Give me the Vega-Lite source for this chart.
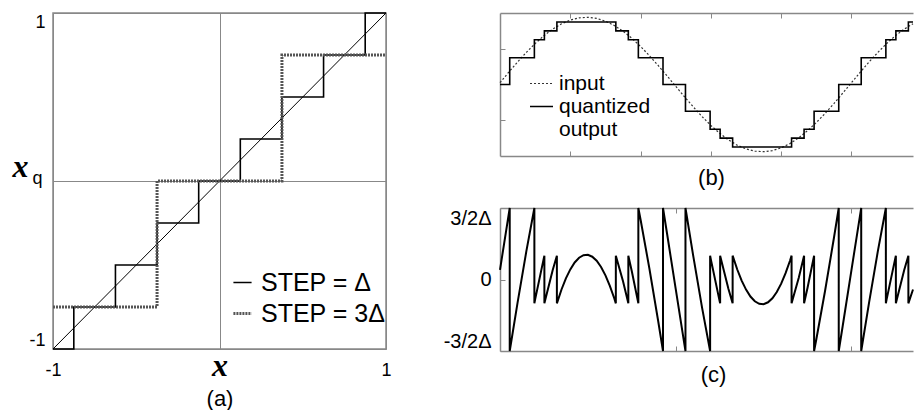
{
  "$schema": "https://vega.github.io/schema/vega-lite/v6.json",
  "background": "white",
  "padding": {"left": 11, "top": 9, "right": 0, "bottom": 0},
  "bounds": "flush",
  "spacing": 114,
  "resolve": {
    "scale": {"color": "independent", "strokeDash": "independent", "strokeWidth": "independent"},
    "legend": {"color": "independent", "strokeDash": "independent", "strokeWidth": "independent"}
  },
  "config": {
    "font": "Liberation Sans",
    "view": {"stroke": null},
    "axis": {"labelColor": "#000", "titleColor": "#000", "titleFontWeight": "normal", "domainColor": "#888", "tickColor": "#888", "gridColor": "#888", "labelFont": "Liberation Sans", "titleFont": "Liberation Sans"},
    "legend": {"labelColor": "#000", "labelFont": "Liberation Sans"}
  },
  "datasets": {
    "stairs": [
      {"x": -1, "q": -1, "step": "STEP = Δ"},
      {"x": -0.875, "q": -0.75, "step": "STEP = Δ"},
      {"x": -0.625, "q": -0.5, "step": "STEP = Δ"},
      {"x": -0.375, "q": -0.25, "step": "STEP = Δ"},
      {"x": -0.125, "q": 0, "step": "STEP = Δ"},
      {"x": 0.125, "q": 0.25, "step": "STEP = Δ"},
      {"x": 0.375, "q": 0.5, "step": "STEP = Δ"},
      {"x": 0.625, "q": 0.75, "step": "STEP = Δ"},
      {"x": 0.875, "q": 1, "step": "STEP = Δ"},
      {"x": 1, "q": 1, "step": "STEP = Δ"},
      {"x": -1, "q": -0.75, "step": "STEP = 3Δ"},
      {"x": -0.375, "q": 0, "step": "STEP = 3Δ"},
      {"x": 0.375, "q": 0.75, "step": "STEP = 3Δ"},
      {"x": 1, "q": 0.75, "step": "STEP = 3Δ"}
    ],
    "diag": [{"x": -1, "q": -1}, {"x": 1, "q": 1}],
    "input": [
      {"t": 0, "v": 0.02538, "sig": "input"}, {"t": 0.125, "v": 0.17206, "sig": "input"}, {"t": 0.25, "v": 0.31451, "sig": "input"}, {"t": 0.375, "v": 0.44921, "sig": "input"},
      {"t": 0.5, "v": 0.57285, "sig": "input"}, {"t": 0.625, "v": 0.68238, "sig": "input"}, {"t": 0.75, "v": 0.77512, "sig": "input"}, {"t": 0.875, "v": 0.84876, "sig": "input"},
      {"t": 1, "v": 0.90151, "sig": "input"}, {"t": 1.125, "v": 0.93206, "sig": "input"}, {"t": 1.25, "v": 0.93966, "sig": "input"}, {"t": 1.375, "v": 0.92412, "sig": "input"},
      {"t": 1.5, "v": 0.88583, "sig": "input"}, {"t": 1.625, "v": 0.82572, "sig": "input"}, {"t": 1.75, "v": 0.74528, "sig": "input"}, {"t": 1.875, "v": 0.64649, "sig": "input"},
      {"t": 2, "v": 0.53179, "sig": "input"}, {"t": 2.125, "v": 0.40398, "sig": "input"}, {"t": 2.25, "v": 0.26624, "sig": "input"}, {"t": 2.375, "v": 0.12193, "sig": "input"},
      {"t": 2.5, "v": -0.02538, "sig": "input"}, {"t": 2.625, "v": -0.17206, "sig": "input"}, {"t": 2.75, "v": -0.31451, "sig": "input"}, {"t": 2.875, "v": -0.44921, "sig": "input"},
      {"t": 3, "v": -0.57285, "sig": "input"}, {"t": 3.125, "v": -0.68238, "sig": "input"}, {"t": 3.25, "v": -0.77512, "sig": "input"}, {"t": 3.375, "v": -0.84876, "sig": "input"},
      {"t": 3.5, "v": -0.90151, "sig": "input"}, {"t": 3.625, "v": -0.93206, "sig": "input"}, {"t": 3.75, "v": -0.93966, "sig": "input"}, {"t": 3.875, "v": -0.92412, "sig": "input"},
      {"t": 4, "v": -0.88583, "sig": "input"}, {"t": 4.125, "v": -0.82572, "sig": "input"}, {"t": 4.25, "v": -0.74528, "sig": "input"}, {"t": 4.375, "v": -0.64649, "sig": "input"},
      {"t": 4.5, "v": -0.53179, "sig": "input"}, {"t": 4.625, "v": -0.40398, "sig": "input"}, {"t": 4.75, "v": -0.26624, "sig": "input"}, {"t": 4.875, "v": -0.12193, "sig": "input"},
      {"t": 5, "v": 0.02538, "sig": "input"}, {"t": 5.125, "v": 0.17206, "sig": "input"}, {"t": 5.25, "v": 0.31451, "sig": "input"}, {"t": 5.375, "v": 0.44921, "sig": "input"},
      {"t": 5.5, "v": 0.57285, "sig": "input"}, {"t": 5.625, "v": 0.68238, "sig": "input"}, {"t": 5.75, "v": 0.77512, "sig": "input"}, {"t": 5.875, "v": 0.84876, "sig": "input"}
    ],
    "quant": [
      {"t": 0, "v": 0, "sig": "quantized output"}, {"t": 0.13832, "v": 0.375, "sig": "quantized output"}, {"t": 0.48901, "v": 0.625, "sig": "quantized output"},
      {"t": 0.63144, "v": 0.75, "sig": "quantized output"}, {"t": 0.80922, "v": 0.875, "sig": "quantized output"}, {"t": 1.64781, "v": 0.75, "sig": "quantized output"},
      {"t": 1.82559, "v": 0.625, "sig": "quantized output"}, {"t": 1.96801, "v": 0.375, "sig": "quantized output"}, {"t": 2.3187, "v": 0, "sig": "quantized output"},
      {"t": 2.63834, "v": -0.375, "sig": "quantized output"}, {"t": 2.98901, "v": -0.625, "sig": "quantized output"}, {"t": 3.13144, "v": -0.75, "sig": "quantized output"},
      {"t": 3.30922, "v": -0.875, "sig": "quantized output"}, {"t": 4.14781, "v": -0.75, "sig": "quantized output"}, {"t": 4.32559, "v": -0.625, "sig": "quantized output"},
      {"t": 4.46801, "v": -0.375, "sig": "quantized output"}, {"t": 4.8187, "v": 0, "sig": "quantized output"}, {"t": 5.13832, "v": 0.375, "sig": "quantized output"},
      {"t": 5.48901, "v": 0.625, "sig": "quantized output"}, {"t": 5.63144, "v": 0.75, "sig": "quantized output"}, {"t": 5.80922, "v": 0.875, "sig": "quantized output"},
      {"t": 5.875, "v": 0.875, "sig": "quantized output"}
    ],
    "err": [
      {"i": 0, "t": 0, "e": 0.203}, {"i": 1, "t": 0.125, "e": 1.3765}, {"i": 2, "t": 0.13832, "e": 1.5}, {"i": 3, "t": 0.13832, "e": -1.5},
      {"i": 4, "t": 0.25, "e": -0.4839}, {"i": 5, "t": 0.375, "e": 0.5937}, {"i": 6, "t": 0.48901, "e": 1.5}, {"i": 7, "t": 0.48901, "e": -0.5},
      {"i": 8, "t": 0.5, "e": -0.4172}, {"i": 9, "t": 0.625, "e": 0.459}, {"i": 10, "t": 0.63144, "e": 0.5}, {"i": 11, "t": 0.63144, "e": -0.5},
      {"i": 12, "t": 0.75, "e": 0.201}, {"i": 13, "t": 0.80922, "e": 0.5}, {"i": 14, "t": 0.80922, "e": -0.5}, {"i": 15, "t": 0.875, "e": -0.2099},
      {"i": 15.5, "t": 0.9375, "e": 0.0227},
      {"i": 16, "t": 1, "e": 0.2121}, {"i": 16.5, "t": 1.0625, "e": 0.357}, {"i": 17, "t": 1.125, "e": 0.4565}, {"i": 17.5, "t": 1.1875, "e": 0.51},
      {"i": 18, "t": 1.25, "e": 0.5173}, {"i": 18.5, "t": 1.3125, "e": 0.4782}, {"i": 19, "t": 1.375, "e": 0.393}, {"i": 19.5, "t": 1.4375, "e": 0.2622},
      {"i": 20, "t": 1.5, "e": 0.0866}, {"i": 20.5, "t": 1.5625, "e": -0.1327}, {"i": 21, "t": 1.625, "e": -0.3942}, {"i": 22, "t": 1.64781, "e": -0.5}, {"i": 23, "t": 1.64781, "e": 0.5},
      {"i": 24, "t": 1.75, "e": -0.0378}, {"i": 25, "t": 1.82559, "e": -0.5}, {"i": 26, "t": 1.82559, "e": 0.5}, {"i": 27, "t": 1.875, "e": 0.1719},
      {"i": 28, "t": 1.96801, "e": -0.5}, {"i": 29, "t": 1.96801, "e": 1.5}, {"i": 30, "t": 2, "e": 1.2543}, {"i": 31, "t": 2.125, "e": 0.2318},
      {"i": 32, "t": 2.25, "e": -0.8701}, {"i": 33, "t": 2.3187, "e": -1.5}, {"i": 34, "t": 2.3187, "e": 1.5}, {"i": 35, "t": 2.375, "e": 0.9754},
      {"i": 36, "t": 2.5, "e": -0.203}, {"i": 37, "t": 2.625, "e": -1.3765}, {"i": 38, "t": 2.63834, "e": -1.5}, {"i": 39, "t": 2.63834, "e": 1.5},
      {"i": 40, "t": 2.75, "e": 0.4839}, {"i": 41, "t": 2.875, "e": -0.5937}, {"i": 42, "t": 2.98901, "e": -1.5}, {"i": 43, "t": 2.98901, "e": 0.5},
      {"i": 44, "t": 3, "e": 0.4172}, {"i": 45, "t": 3.125, "e": -0.459}, {"i": 46, "t": 3.13144, "e": -0.5}, {"i": 47, "t": 3.13144, "e": 0.5},
      {"i": 48, "t": 3.25, "e": -0.201}, {"i": 49, "t": 3.30922, "e": -0.5}, {"i": 50, "t": 3.30922, "e": 0.5}, {"i": 51, "t": 3.375, "e": 0.2099},
      {"i": 51.5, "t": 3.4375, "e": -0.0227},
      {"i": 52, "t": 3.5, "e": -0.2121}, {"i": 52.5, "t": 3.5625, "e": -0.357}, {"i": 53, "t": 3.625, "e": -0.4565}, {"i": 53.5, "t": 3.6875, "e": -0.51},
      {"i": 54, "t": 3.75, "e": -0.5173}, {"i": 54.5, "t": 3.8125, "e": -0.4782}, {"i": 55, "t": 3.875, "e": -0.393}, {"i": 55.5, "t": 3.9375, "e": -0.2622},
      {"i": 56, "t": 4, "e": -0.0866}, {"i": 56.5, "t": 4.0625, "e": 0.1327}, {"i": 57, "t": 4.125, "e": 0.3942}, {"i": 58, "t": 4.14781, "e": 0.5}, {"i": 59, "t": 4.14781, "e": -0.5},
      {"i": 60, "t": 4.25, "e": 0.0378}, {"i": 61, "t": 4.32559, "e": 0.5}, {"i": 62, "t": 4.32559, "e": -0.5}, {"i": 63, "t": 4.375, "e": -0.1719},
      {"i": 64, "t": 4.46801, "e": 0.5}, {"i": 65, "t": 4.46801, "e": -1.5}, {"i": 66, "t": 4.5, "e": -1.2543}, {"i": 67, "t": 4.625, "e": -0.2318},
      {"i": 68, "t": 4.75, "e": 0.8701}, {"i": 69, "t": 4.8187, "e": 1.5}, {"i": 70, "t": 4.8187, "e": -1.5}, {"i": 71, "t": 4.875, "e": -0.9754},
      {"i": 72, "t": 5, "e": 0.203}, {"i": 73, "t": 5.125, "e": 1.3765}, {"i": 74, "t": 5.13832, "e": 1.5}, {"i": 75, "t": 5.13832, "e": -1.5},
      {"i": 76, "t": 5.25, "e": -0.4839}, {"i": 77, "t": 5.375, "e": 0.5937}, {"i": 78, "t": 5.48901, "e": 1.5}, {"i": 79, "t": 5.48901, "e": -0.5},
      {"i": 80, "t": 5.5, "e": -0.4172}, {"i": 81, "t": 5.625, "e": 0.459}, {"i": 82, "t": 5.63144, "e": 0.5}, {"i": 83, "t": 5.63144, "e": -0.5},
      {"i": 84, "t": 5.75, "e": 0.201}, {"i": 85, "t": 5.80922, "e": 0.5}, {"i": 86, "t": 5.80922, "e": -0.5}, {"i": 87, "t": 5.875, "e": -0.2099}
    ]
  },
  "hconcat": [
    {
      "width": 333,
      "height": 336,
      "view": {"stroke": "#888", "strokeWidth": 1.5},
      "layer": [
        {
          "data": {"name": "diag"},
          "mark": {"type": "line", "color": "#000", "strokeWidth": 1},
          "encoding": {
            "x": {"field": "x", "type": "quantitative", "scale": {"domain": [-1, 1], "nice": false},
              "axis": {"values": [-1, 0, 1], "grid": true, "ticks": false, "tickSize": 0, "domain": false,
                "labelExpr": "datum.value == 0 ? 'x' : (datum.value < 0 ? '-1' : '1')",
                "labelFont": {"condition": {"test": "datum.value == 0", "value": "Liberation Serif"}, "value": "Liberation Sans"},
                "labelFontStyle": {"condition": {"test": "datum.value == 0", "value": "italic"}, "value": "normal"},
                "labelFontWeight": {"condition": {"test": "datum.value == 0", "value": "bold"}, "value": "normal"},
                "labelFontSize": {"condition": {"test": "datum.value == 0", "value": 32}, "value": 18},
                "labelBaseline": "alphabetic", "labelPadding": 26, "labelFlush": false,
                "title": "(a)", "titleFontSize": 22, "titlePadding": 7}},
            "y": {"field": "q", "type": "quantitative", "scale": {"domain": [-1, 1], "nice": false},
              "axis": {"values": [-1, 0, 1], "grid": true, "ticks": false, "tickSize": 0, "domain": false,
                "labelExpr": "datum.value == 0 ? 'q' : (datum.value < 0 ? '-1' : '1')",
                "labelFontSize": 18,
                "labelPadding": {"condition": {"test": "datum.value == 0", "value": 11}, "value": 8},
                "labelOffset": {"condition": {"test": "datum.value == 0", "value": -3}, "value": 0},
                "labelFlush": true,
                "title": "x", "titleFont": "Liberation Serif", "titleFontStyle": "italic", "titleFontWeight": "bold", "titleFontSize": 32,
                "titleAngle": 0, "titleAlign": "right", "titleBaseline": "alphabetic", "titleX": -25, "titleY": 163}}
          }
        },
        {
          "data": {"name": "stairs"},
          "mark": {"type": "line", "interpolate": "step-after"},
          "encoding": {
            "x": {"field": "x", "type": "quantitative"},
            "y": {"field": "q", "type": "quantitative"},
            "color": {"field": "step", "type": "nominal", "scale": {"domain": ["STEP = Δ", "STEP = 3Δ"], "range": ["#000", "#555"]},
              "legend": {"orient": "none", "legendX": 177, "legendY": 257, "title": null, "labelFontSize": 25, "symbolType": "stroke", "symbolSize": 330, "rowPadding": 5, "labelOffset": 6}},
            "strokeDash": {"field": "step", "type": "nominal", "scale": {"domain": ["STEP = Δ", "STEP = 3Δ"], "range": [[1, 0], [2, 1]]}},
            "strokeWidth": {"field": "step", "type": "nominal", "scale": {"domain": ["STEP = Δ", "STEP = 3Δ"], "range": [1.6, 3]}}
          }
        }
      ]
    },
    {
      "vconcat": [
        {
          "width": 413,
          "height": 143,
          "layer": [
            {
              "data": {"name": "input"},
              "mark": {"type": "line"},
              "encoding": {
                "x": {"field": "t", "type": "quantitative", "scale": {"domain": [0, 5.875], "nice": false, "zero": false},
                  "axis": {"orient": "bottom", "values": [1, 2, 3, 4, 5], "tickSize": -5, "labels": false, "grid": false, "domain": true, "domainWidth": 1.5,
                    "title": "(b)", "titleFontSize": 22, "titlePadding": 11, "titleX": 211}},
                "y": {"field": "v", "type": "quantitative", "scale": {"domain": [-1, 1], "nice": false},
                  "axis": {"values": [-0.5, 0.5], "tickSize": -5, "labels": false, "grid": false, "domain": true, "domainWidth": 1.5, "title": null}},
                "color": {"field": "sig", "type": "nominal", "scale": {"domain": ["input", "quantized output", "output"], "range": ["#333", "#000", "transparent"]},
                  "legend": {"orient": "none", "legendX": 29, "legendY": 58, "title": null, "labelFontSize": 21, "symbolType": "stroke", "symbolSize": 529, "rowPadding": 0, "labelOffset": 5,
                    "labelExpr": "datum.label == 'quantized output' ? 'quantized' : datum.label"}},
                "strokeDash": {"field": "sig", "type": "nominal", "scale": {"domain": ["input", "quantized output", "output"], "range": [[2, 2], [1, 0], [1, 0]]}},
                "strokeWidth": {"field": "sig", "type": "nominal", "scale": {"domain": ["input", "quantized output", "output"], "range": [1.2, 2, 0]}}
              }
            },
            {
              "data": {"name": "quant"},
              "mark": {"type": "line", "interpolate": "step-after"},
              "encoding": {
                "x": {"field": "t", "type": "quantitative",
                  "axis": {"orient": "top", "values": [1, 2, 3, 4, 5], "tickSize": -5, "labels": false, "grid": false, "domain": true, "domainWidth": 1.5, "title": null}},
                "y": {"field": "v", "type": "quantitative"},
                "color": {"field": "sig", "type": "nominal"},
                "strokeDash": {"field": "sig", "type": "nominal"},
                "strokeWidth": {"field": "sig", "type": "nominal"}
              }
            }
          ],
          "resolve": {"axis": {"x": "independent"}}
        },
        {
          "width": 413,
          "height": 143,
          "layer": [
            {
              "data": {"name": "err"},
              "mark": {"type": "line", "color": "#000", "strokeWidth": 2},
              "encoding": {
                "x": {"field": "t", "type": "quantitative", "scale": {"domain": [0, 5.875], "nice": false, "zero": false},
                  "axis": {"orient": "bottom", "values": [2.5, 5], "tickSize": -5, "labels": false, "grid": false, "domain": true, "domainWidth": 1.5,
                    "title": "(c)", "titleFontSize": 22, "titlePadding": 13, "titleX": 213}},
                "y": {"field": "e", "type": "quantitative", "scale": {"domain": [-1.5, 1.5], "nice": false},
                  "axis": {"values": [-1.5, -1, 0, 1, 1.5], "tickSize": -5, "grid": false, "domain": true, "domainWidth": 1.5, "title": null,
                    "labelExpr": "datum.value == 1.5 ? '3/2Δ' : (datum.value == -1.5 ? '-3/2Δ' : (datum.value == 0 ? '0' : ''))",
                    "labelFontSize": 20, "labelPadding": 14, "labelFlush": true}},
                "order": {"field": "i", "type": "quantitative"}
              }
            },
            {
              "data": {"name": "err"},
              "mark": {"type": "line", "opacity": 0},
              "encoding": {
                "x": {"field": "t", "type": "quantitative",
                  "axis": {"orient": "top", "values": [2.5, 5], "tickSize": -5, "labels": false, "grid": false, "domain": true, "domainWidth": 1.5, "title": null}},
                "y": {"field": "e", "type": "quantitative"},
                "order": {"field": "i", "type": "quantitative"}
              }
            }
          ],
          "resolve": {"axis": {"x": "independent"}}
        }
      ],
      "spacing": 52,
      "bounds": "flush"
    }
  ]
}
